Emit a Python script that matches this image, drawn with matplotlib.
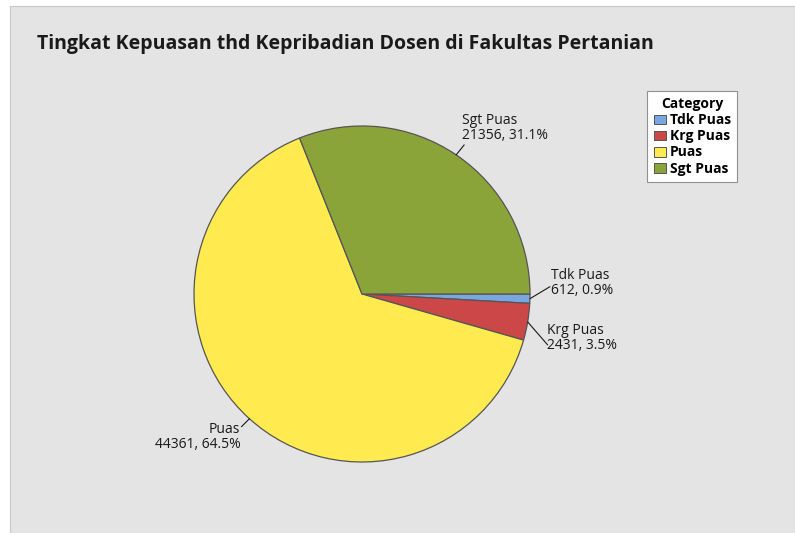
import numpy as np
import matplotlib
matplotlib.use("Agg")
import matplotlib.pyplot as plt
from matplotlib.patches import Patch

plt.rcParams['font.family'] = ['Open Sans', 'DejaVu Sans']

# data
categories = ['Tdk Puas', 'Krg Puas', 'Puas', 'Sgt Puas']
counts = [612, 2431, 44361, 21356]
percents = ['0.9%', '3.5%', '64.5%', '31.1%']
colors = ['#7BA7E0', '#CC4748', '#FFEB4F', '#8BA43A']
title = 'Tingkat Kepuasan thd Kepribadian Dosen di Fakultas Pertanian'

W, H = 795, 533
fig = plt.figure(figsize=(W / 100, H / 100), dpi=100, facecolor='white')

# grey panel
bg = fig.add_axes([10 / W, 0, (W - 10) / W, (H - 6) / H])
bg.set_facecolor('#E4E4E4')
bg.set_xticks([])
bg.set_yticks([])
for s in bg.spines.values():
    s.set_color('#C8C8C8')

fig.text(37 / W, 1 - 44 / H, title, fontsize=14, fontweight='bold',
         va='center', ha='left', color='#1A1A1A')

# pie axes: center (362, 294), radius 168 px
cx, cy, r = 362, 294, 168
ax = fig.add_axes([(cx - r) / W, 1 - (cy + r) / H, 2 * r / W, 2 * r / H])
wedges, _ = ax.pie(counts, colors=colors, startangle=0, counterclock=False,
                   radius=1, wedgeprops=dict(edgecolor='#555555', linewidth=0.9))
ax.set_xlim(-1, 1)
ax.set_ylim(-1, 1)
ax.axis('off')

# leader end offset, text offset, ha, va (pixels)
layout = {
    'Tdk Puas': ((20, 12), (21, 1), 'left', 'bottom'),
    'Krg Puas': ((20, -23), (19, -1), 'left', 'top'),
    'Puas': ((-8, -8), (-9, -3), 'right', 'top'),
    'Sgt Puas': ((8, 10), (6, 12), 'left', 'bottom'),
}
for w, cat, n, p in zip(wedges, categories, counts, percents):
    ang = np.deg2rad((w.theta1 + w.theta2) / 2)
    x, y = np.cos(ang), np.sin(ang)
    line_off, text_off, ha, va = layout[cat]
    ax.annotate('', xy=(x, y), xytext=line_off, textcoords='offset pixels',
                arrowprops=dict(arrowstyle='-', color='#1A1A1A', lw=0.8,
                                shrinkA=0, shrinkB=0),
                annotation_clip=False)
    ax.annotate(f'{cat}\n{n}, {p}', xy=(x, y), xytext=text_off,
                textcoords='offset pixels', ha=ha, va=va, fontsize=10,
                color='#1A1A1A', linespacing=1.0, annotation_clip=False)

handles = [Patch(facecolor=c, edgecolor='#555555', linewidth=0.7) for c in colors]
leg = fig.legend(handles, categories, title='Category', loc='upper right',
                 bbox_to_anchor=(737 / W, 1 - 91 / H), frameon=True,
                 fancybox=False, edgecolor='#909090', framealpha=1,
                 prop=dict(size=10, weight='bold'), handlelength=0.9,
                 handleheight=0.7, handletextpad=0.25, labelspacing=0.15,
                 borderpad=0.45, borderaxespad=0)
leg.get_title().set_fontweight('bold')
leg.get_title().set_fontsize(10)
leg.get_frame().set_linewidth(0.8)

fig.savefig('out.png', dpi=100, facecolor='white')
